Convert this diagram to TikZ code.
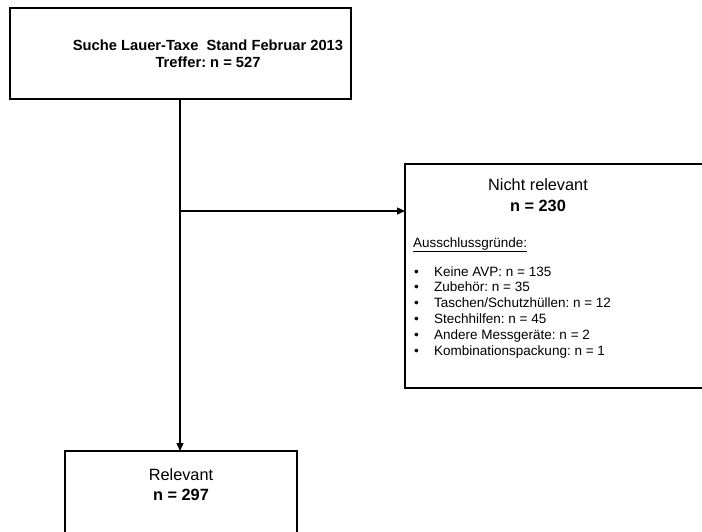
\documentclass[tikz,border=0pt]{standalone}
\usepackage{fontspec}
\setmainfont{Liberation Sans}
\usetikzlibrary{arrows.meta}
\frenchspacing
\begin{document}
\begin{tikzpicture}[x=1pt,y=-1pt,
  box/.style={draw=black,line width=1.4pt},
  conn/.style={line width=1.4pt,-{Triangle[length=8pt,width=7pt]}},
  txt/.style={inner sep=0pt,anchor=base}]
\useasboundingbox (0,0) rectangle (702,531);
\begin{scope}
\clip (0,0) rectangle (702,531);
% boxes
\draw[box] (10,8) rectangle (351,99);
\node[txt,font=\fontsize{14.7}{17}\selectfont\bfseries] (t1) at (208,50) {Suche Lauer-Taxe\ \ Stand Februar 2013};
\node[txt,font=\fontsize{14.7}{17}\selectfont\bfseries] (t2) at (208,67) {Treffer: n = 527};
\coordinate (top) at (180,99);
\draw[box] (405,164) rectangle (712,388);
\coordinate (rin) at (405,211);
\node[txt,font=\fontsize{16.3}{19}\selectfont] (r1) at (538,190) {Nicht relevant};
\node[txt,font=\fontsize{16.3}{19}\selectfont\bfseries] (r2) at (538,211) {n = 230};
\node[txt,anchor=base west,font=\fontsize{13.5}{16}\selectfont] (r3) at (413,247) {\underline{Ausschlussgründe:}};
\foreach \t [count=\i] in {Keine AVP: n = 135,Zubehör: n = 35,Taschen/Schutzhüllen: n = 12,Stechhilfen: n = 45,Andere Messgeräte: n = 2,Kombinationspackung: n = 1}{
  \node[txt,anchor=base west,font=\fontsize{13.5}{16}\selectfont] (b\i) at (414,{276+(\i-1)*15.8}) {•};
  \node[txt,anchor=base west,font=\fontsize{13.5}{16}\selectfont] (l\i) at (434,{276+(\i-1)*15.8}) {\t};
}
\draw[box] (65,451) rectangle (297,545);
\coordinate (bin) at (180,451);
\node[txt,font=\fontsize{16.3}{19}\selectfont] (s1) at (181,480) {Relevant};
\node[txt,font=\fontsize{16.3}{19}\selectfont\bfseries] (s2) at (181,500) {n = 297};
\coordinate (br) at (180,211);
\draw[conn] (top) -- (bin);
\draw[conn] (br) -- (rin);
\end{scope}
\end{tikzpicture}
\end{document}
